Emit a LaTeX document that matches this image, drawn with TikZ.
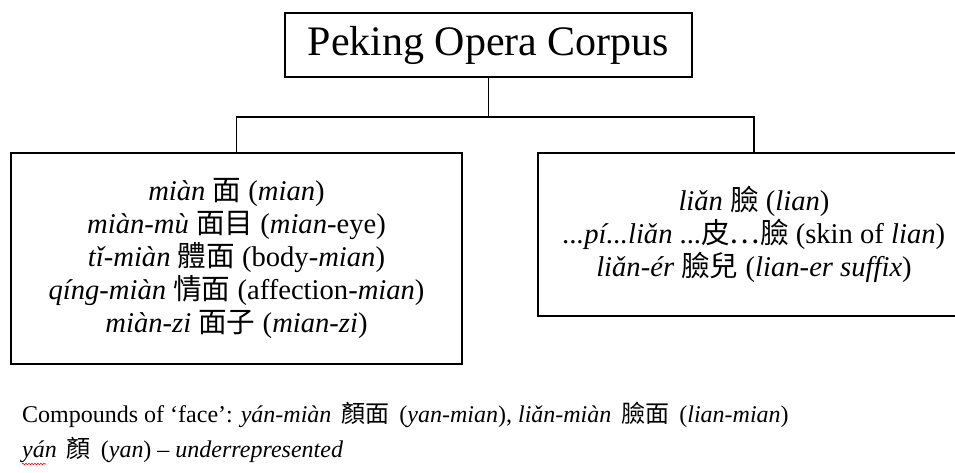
\documentclass[tikz,border=0pt]{standalone}
\usepackage{fontspec}
\setmainfont{Liberation Serif}
\newfontfamily\cjk{Noto Sans CJK TC}
\newcommand{\zh}[1]{{\cjk #1}}
\usetikzlibrary{decorations.pathmorphing}

\begin{document}
\begin{tikzpicture}[x=1pt,y=-1pt,line cap=rect,
  termbox/.style={draw,line width=1.8pt,align=center,inner sep=0pt},
  branch/.style={line width=1.8pt}]
\useasboundingbox (0,0) rectangle (955,472);
\begin{scope}
\clip (0,0) rectangle (955,472);
\node[termbox,minimum width=407pt,minimum height=64pt,font=\fontsize{42}{48}\selectfont] (corpus) at (488.5,45) {Peking Opera Corpus};
\node[termbox,minimum width=451pt,minimum height=211pt,font=\fontsize{28.6}{33}\selectfont] (mianbox) at (236.5,258.5)
  {\textit{miàn} \zh{面} (\textit{mian})\\
   \textit{miàn-mù} \zh{面目} (\textit{mian}-eye)\\
   \textit{tǐ-miàn} \zh{體面} (body-\textit{mian})\\
   \textit{qíng-miàn} \zh{情面} (affection-\textit{mian})\\
   \textit{miàn-zi} \zh{面子} (\textit{mian-zi})};
\node[termbox,minimum width=432pt,minimum height=163pt,font=\fontsize{28.6}{33}\selectfont] (lianbox) at (754,234.5)
  {\raisebox{-5pt}{\textit{liǎn} \zh{臉} (\textit{lian})}\\
   \raisebox{-5pt}{\textit{...pí...liǎn} ...\zh{皮…臉} (skin of \textit{lian})}\\
   \raisebox{-5pt}{\textit{liǎn-ér} \zh{臉兒} (\textit{lian-er suffix})}};
\end{scope}
% tree connectors
\draw[branch] (corpus.south) -- ++(0,39) coordinate (fork) -| (mianbox.north);
\draw[branch] (fork) -| (lianbox.north);
% notes below
\node[anchor=west,inner sep=0pt,font=\fontsize{24}{28}\selectfont] (compounds) at (22,415)
  {Compounds of ‘face’: \textit{yán-miàn}\, \zh{顏面}\, (\textit{yan-mian}), \textit{liǎn-miàn}\, \zh{臉面}\, (\textit{lian-mian})};
\node[anchor=west,inner sep=0pt,font=\fontsize{24}{28}\selectfont] (yan) at (22,450)
  {\textit{yán}\, \zh{顏}\, (\textit{yan}) -- \textit{underrepresented}};
\draw[red,line width=0.6pt,decorate,decoration={snake,amplitude=0.8pt,segment length=3pt}] (22,464) -- (46,464);
\end{tikzpicture}
\end{document}
